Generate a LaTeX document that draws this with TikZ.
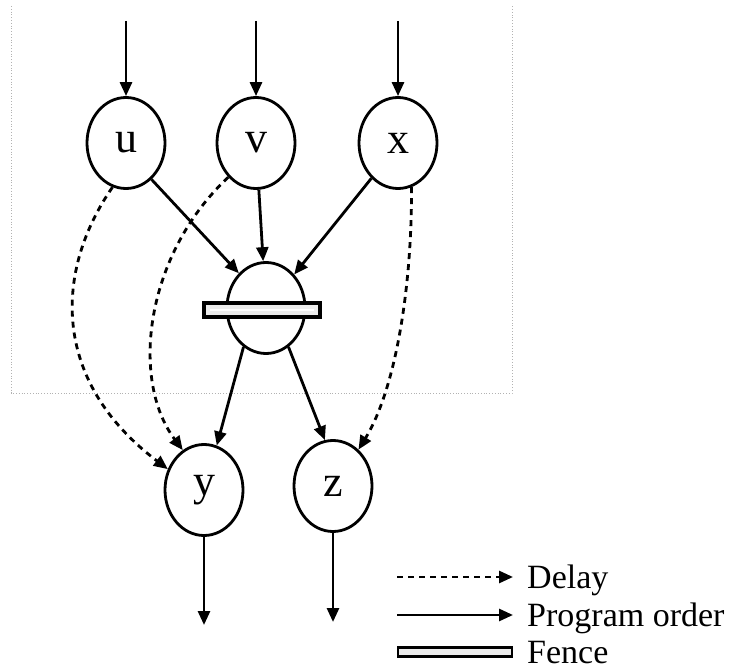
\documentclass[tikz,border=0pt]{standalone}
\usepackage{fontspec}
\setmainfont{Liberation Serif}
\usetikzlibrary{arrows.meta,shapes.geometric}
\begin{document}
\begin{tikzpicture}[x=1pt,y=-1pt,
  event/.style={draw, ellipse, line width=2.8pt, minimum width=78pt,
    minimum height=91pt, inner sep=0pt, font=\fontsize{44}{48}\selectfont},
  flow/.style={line width=2.8pt, -{Triangle[length=14pt,width=12pt]}},
  delay/.style={flow, dash pattern=on 6pt off 5pt},
  fencebar/.style={draw, line width=3.2pt, fill=gray!15, inner sep=0pt},
  legendtext/.style={anchor=base west, inner sep=0pt, font=\fontsize{34}{38}\selectfont},
  region/.style={draw=gray!60, line width=0.8pt, dotted}
]
\useasboundingbox (0,0) rectangle (734,671);

% dotted region around the fenced part
\draw[region] (11,6) -- (11,393) -- (512,393) -- (512,6);

% events
\node[event] (u) at (126,143) {u};
\node[event] (v) at (256,143) {v};
\node[event] (x) at (398,143) {x};
\node[event] (f) at (266,308) {};
\node[event] (y) at (204,490) {y};
\node[event] (z) at (333,486) {z};

% fence across the middle event
\node[fencebar, minimum width=116pt, minimum height=14pt] (fb) at (262,310) {};
\draw[white, line width=1.5pt] ([xshift=8pt]fb.west) -- ([xshift=-8pt]fb.east);

% incoming program order
\coordinate (ut) at (126,21);
\coordinate (vt) at (256,21);
\coordinate (xt) at (398,21);
\draw[flow] (ut) -- (u);
\draw[flow] (vt) -- (v);
\draw[flow] (xt) -- (x);

% program order through the fence
\draw[flow] (u.305) -- (f.128);
\draw[flow] (v) -- (f);
\draw[flow] (x.233) -- (f.50);
\draw[flow] (f.240) -- (y.74);
\draw[flow] (f.300) -- (z.100);

% outgoing program order
\coordinate (yb) at (204,625);
\coordinate (zb) at (333,622);
\draw[flow] (y) -- (yb);
\draw[flow] (z) -- (zb);

% delays
\draw[delay] (u.253) .. controls (55,270) and (50,380) .. (y.150);
\draw[delay] (v.231) .. controls (145,255) and (130,380) .. (y.118);
\draw[delay] (x.287) .. controls (412,290) and (395,390) .. (z.55);

% legend
\coordinate (d0) at (397,577);
\coordinate (d1) at (513,577);
\draw[delay] (d0) -- (d1);
\node[legendtext] (dl) at (527,588) {Delay};

\coordinate (p0) at (397,615);
\coordinate (p1) at (513,615);
\draw[flow] (p0) -- (p1);
\node[legendtext] (pl) at (527,626) {Program order};

\node[fencebar, line width=2.6pt, minimum width=114pt, minimum height=9pt] (lf) at (455,652) {};
\node[legendtext] (fl) at (527,663) {Fence};
\end{tikzpicture}
\end{document}
